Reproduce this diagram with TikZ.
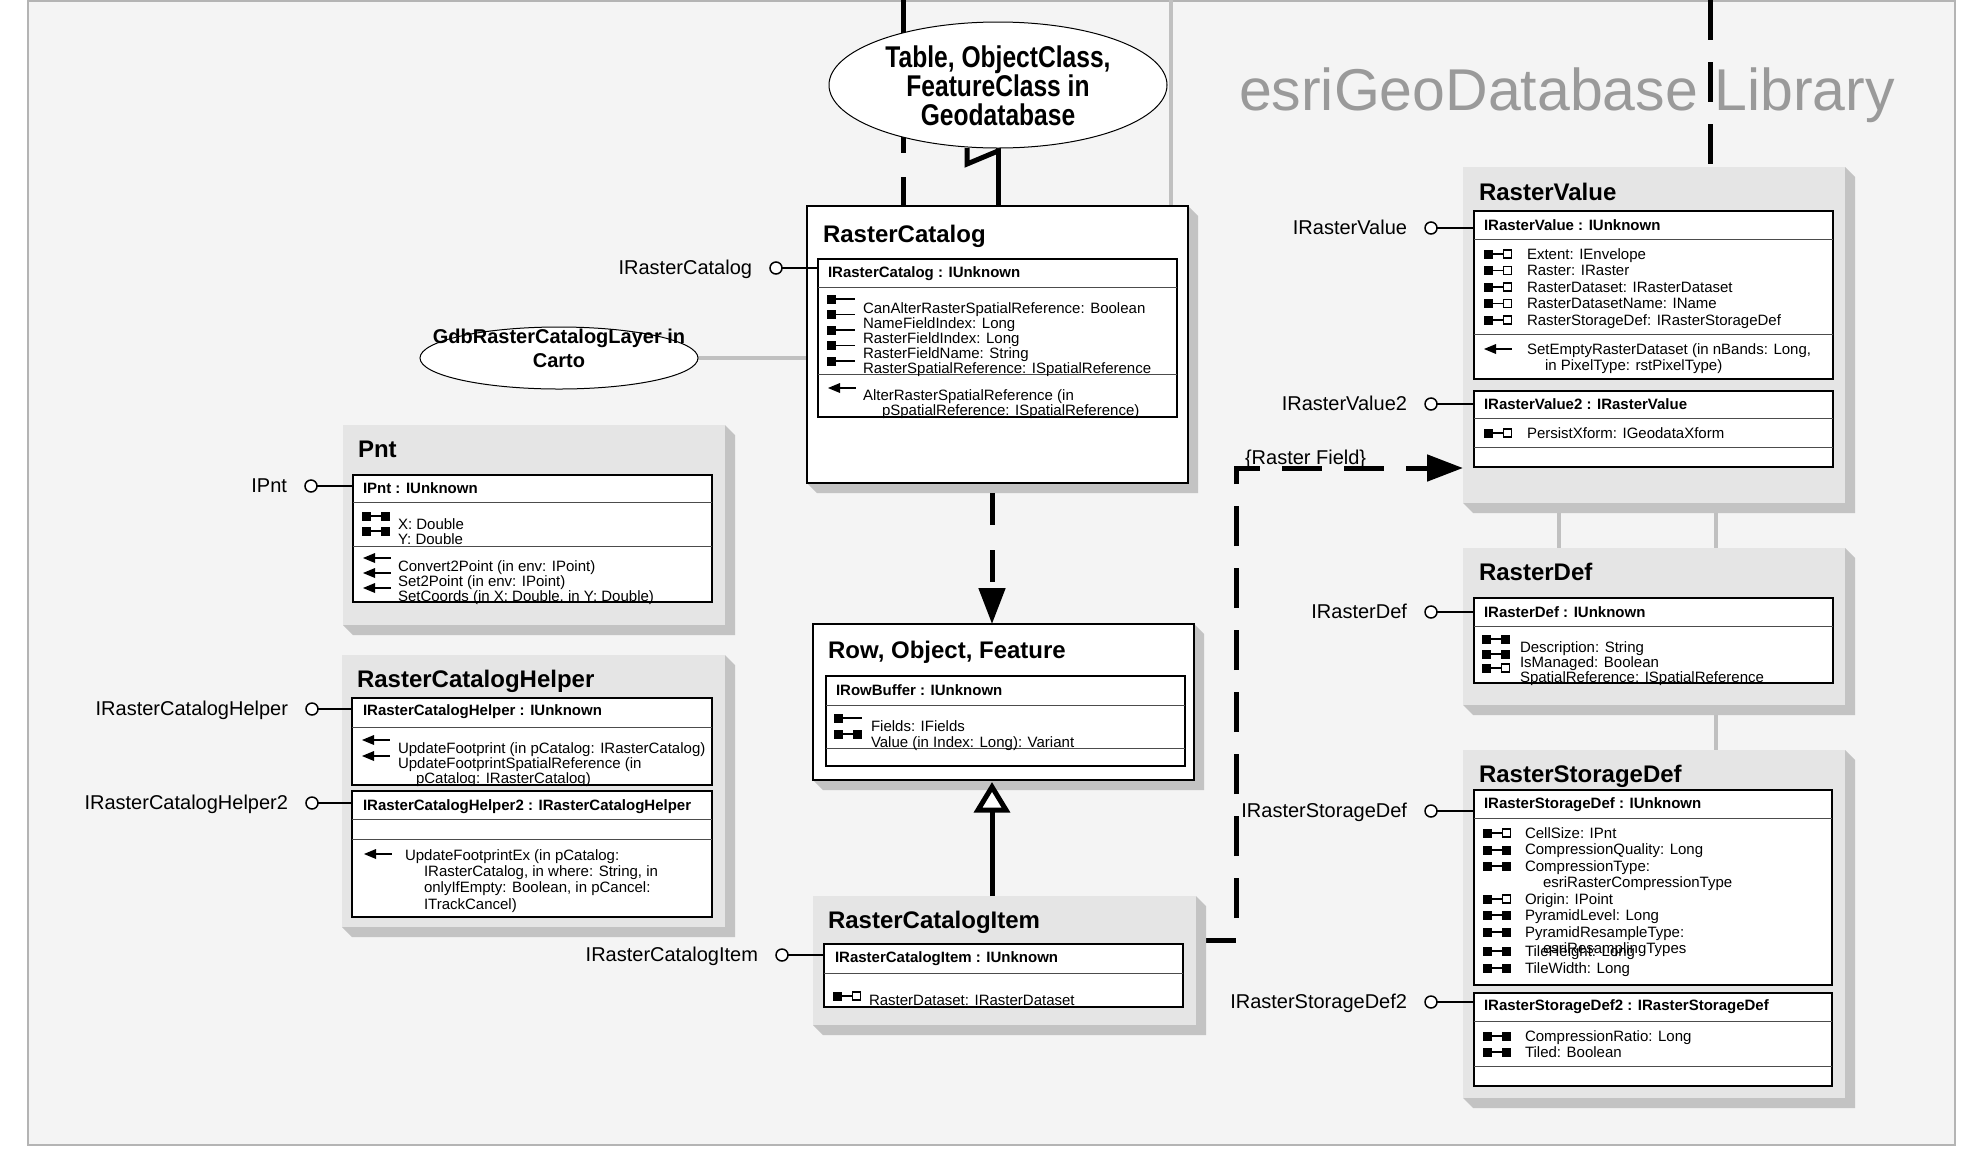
\documentclass[tikz,border=0pt]{standalone}
\usepackage{fontspec}
\setmainfont{Liberation Sans}
\newfontfamily\narrowsans{Liberation Sans}[FakeStretch=0.82]
\usetikzlibrary{arrows.meta,shapes.geometric}
\definecolor{bggray}{HTML}{F4F4F4}
\definecolor{framegray}{HTML}{B4B4B4}
\definecolor{boxgray}{HTML}{E5E5E5}
\definecolor{bevelgray}{HTML}{C3C3C3}
\definecolor{linkgray}{HTML}{C0C0C0}
\definecolor{libgray}{HTML}{9A9A9A}
\pgfdeclarelayer{back}
\pgfdeclarelayer{conn}
\pgfsetlayers{back,conn,main}
\newcommand{\fsr}{\rule{0pt}{11.5pt}}
\tikzset{
  every node/.style={inner sep=0pt, outer sep=0pt},
  lbl/.style={font=\fontsize{20}{24}\selectfont, anchor=base east},
  ttl/.style={font=\bfseries\fontsize{24}{28}\selectfont, anchor=base west},
  hdr/.style={font=\bfseries\fontsize{15}{18}\selectfont, anchor=base west},
  prp/.style={font=\fontsize{15}{#1}\selectfont, align=left, anchor=north west},
  prp/.default=15,
  gbox/.style={fill=boxgray, draw=none},
  wbox/.style={fill=white, draw=black, line width=1.2pt},
  ifc/.style={fill=white, draw=black, line width=1.8pt},
  lolli/.style={circle, draw=black, fill=white, line width=1.5pt, minimum size=12pt},
  dashconn/.style={line width=5pt, dash pattern=on 40pt off 22pt},
  thickconn/.style={line width=5pt},
  grayconn/.style={line width=4pt, draw=linkgray},
  pro/.pic={\fill (0,-4.5) rectangle (9,4.5); \draw[line width=1.6pt] (9,0) -- (28,0);},
  prw/.pic={\fill (0,-4.5) rectangle (9,4.5); \fill (19,-4.5) rectangle (28,4.5); \draw[line width=1.6pt] (9,0) -- (19,0);},
  pref/.pic={\fill (0,-4.5) rectangle (9,4.5); \draw[line width=1.6pt] (9,0) -- (19.5,0); \draw[line width=1.4pt, fill=white] (19.5,-4) rectangle (27.5,4);},
  mth/.pic={\fill (0,0) -- (12,-5) -- (12,5) -- cycle; \draw[line width=1.6pt] (11,0) -- (28,0);},
}
\newcommand{\ClassBox}[6]{%
  \fill[bevelgray] (#4,#3) -- ++(10,10) -- (#4+10,#5+10) -- (#2+10,#5+10) -- (#2,#5) -- (#4,#5) -- cycle;
  \node[#6, minimum width=#4-#2, minimum height=#5-#3, anchor=north west] (#1) at (#2,#3) {};}
\newcommand{\IfcBox}[5]{%
  \node[ifc, minimum width=#4-#2, minimum height=#5-#3, anchor=north west] (#1) at (#2,#3) {};}
\newcommand{\Sep}[2]{\draw[line width=1pt, black!70] (#1.west |- 0,#2) -- (#1.east |- 0,#2);}
\newcommand{\Lolli}[6]{%
  \node[lolli] (#1) at (#2,#3) {};
  \draw[line width=1.5pt] (#1.east) -- (#4.west |- #1);
  \node[lbl] (#5) at (#2-24,#3+6) {#6};}
\begin{document}
\begin{tikzpicture}[x=1pt, y=-1pt]
\useasboundingbox (0,0) rectangle (1961,1163);
\begin{pgfonlayer}{back}
  \fill[bggray] (28,0) rectangle (1955,1145);
  \draw[framegray, line width=2.5pt] (28,1) rectangle (1955,1145);
\end{pgfonlayer}

% library title
\node[font=\fontsize{59}{64}\selectfont, text=libgray, anchor=base west] (lib) at (1239,110) {esriGeoDatabase Library};

% ellipses
\node[ellipse, draw=black, fill=white, line width=1pt, minimum width=338pt, minimum height=126pt] (tbl) at (998,85) {};
\node[font=\narrowsans\bfseries\fontsize{30}{29}\selectfont, align=center, anchor=north] (tblT) at (998,67-23) {\rule{0pt}{23pt}Table, ObjectClass,\\FeatureClass in\\Geodatabase};
\node[ellipse, draw=black, fill=white, line width=1pt, minimum width=278pt, minimum height=62pt] (gdb) at (559,358) {};
\node[font=\bfseries\fontsize{20}{24}\selectfont, align=center, anchor=north] (gdbT) at (559,343-15) {\rule{0pt}{15pt}GdbRasterCatalogLayer in\\Carto};

% ---------- RasterCatalog
\ClassBox{rc}{807}{206}{1188}{483}{wbox}
\node[ttl] (rcT) at (823,242) {RasterCatalog};
\IfcBox{rcI}{818}{259}{1177}{417}
\Sep{rcI}{287}\Sep{rcI}{374}
\node[hdr] (rcH) at (828,277) {IRasterCatalog : IUnknown};
\node[prp] (rcP) at (863,313-11.5) {\fsr CanAlterRasterSpatialReference: Boolean\\NameFieldIndex: Long\\RasterFieldIndex: Long\\RasterFieldName: String\\RasterSpatialReference: ISpatialReference};
\pic at (827,299) {pro}; \pic at (827,314.5) {pro}; \pic at (827,330) {pro}; \pic at (827,345.5) {pro}; \pic at (827,361) {pro};
\pic at (828,388) {mth};
\node[prp] (rcM) at (863,400-11.5) {\fsr AlterRasterSpatialReference (in\\\hspace*{19pt}pSpatialReference: ISpatialReference)};
\Lolli{rcC}{776}{268}{rcI}{rcL}{IRasterCatalog}

% ---------- Pnt
\ClassBox{pnt}{343}{425}{725}{625}{gbox}
\node[ttl] (pntT) at (358,457) {Pnt};
\IfcBox{pntI}{353}{475}{712}{602}
\Sep{pntI}{502}\Sep{pntI}{546}
\node[hdr] (pntH) at (363,493) {IPnt : IUnknown};
\node[prp] (pntP) at (398,529-11.5) {\fsr X: Double\\Y: Double};
\pic at (362,516) {prw}; \pic at (362,531) {prw};
\node[prp] (pntM) at (398,571-11.5) {\fsr Convert2Point (in env: IPoint)\\Set2Point (in env: IPoint)\\SetCoords (in X: Double, in Y: Double)};
\pic at (363,558) {mth}; \pic at (363,573) {mth}; \pic at (363,588) {mth};
\Lolli{pntC}{311}{486}{pntI}{pntL}{IPnt}

% ---------- RasterCatalogHelper
\ClassBox{hl}{342}{655}{725}{927}{gbox}
\node[ttl] (hlT) at (357,687) {RasterCatalogHelper};
\IfcBox{hlIa}{352}{698}{712}{785}
\Sep{hlIa}{727}
\node[hdr] (hlHa) at (363,715) {IRasterCatalogHelper : IUnknown};
\node[prp] (hlMa) at (398,753-11.5) {\fsr UpdateFootprint (in pCatalog: IRasterCatalog)\\UpdateFootprintSpatialReference (in\\\hspace*{18pt}pCatalog: IRasterCatalog)};
\pic at (362,740) {mth}; \pic at (362,756) {mth};
\IfcBox{hlIb}{352}{791}{712}{917}
\Sep{hlIb}{819}\Sep{hlIb}{839}
\node[hdr] (hlHb) at (363,810) {IRasterCatalogHelper2 : IRasterCatalogHelper};
\pic at (364,854) {mth};
\node[prp=16.4] (hlMb) at (405,860-11.5) {\fsr UpdateFootprintEx (in pCatalog:\\\hspace*{19pt}IRasterCatalog, in where: String, in\\\hspace*{19pt}onlyIfEmpty: Boolean, in pCancel:\\\hspace*{19pt}ITrackCancel)};
\Lolli{hlCa}{312}{709}{hlIa}{hlLa}{IRasterCatalogHelper}
\Lolli{hlCb}{312}{803}{hlIb}{hlLb}{IRasterCatalogHelper2}

% ---------- Row, Object, Feature
\ClassBox{row}{813}{624}{1194}{780}{wbox}
\node[ttl] (rowT) at (828,658) {Row, Object, Feature};
\IfcBox{rowI}{826}{676}{1185}{766}
\Sep{rowI}{705}\Sep{rowI}{748}
\node[hdr] (rowH) at (836,695) {IRowBuffer : IUnknown};
\node[prp=16] (rowP) at (871,731-11.5) {\fsr Fields: IFields\\Value (in Index: Long): Variant};
\pic at (834,718) {pro}; \pic at (834,734) {prw};

% ---------- RasterCatalogItem
\ClassBox{rcit}{813}{896}{1196}{1025}{gbox}
\node[ttl] (ritT) at (828,928) {RasterCatalogItem};
\IfcBox{ritI}{824}{944}{1183}{1007}
\Sep{ritI}{973}
\node[hdr] (ritH) at (835,962) {IRasterCatalogItem : IUnknown};
\node[prp] (ritP) at (869,1005-11.5) {\fsr RasterDataset: IRasterDataset};
\pic at (833,996) {pref};
\Lolli{ritC}{782}{955}{ritI}{ritL}{IRasterCatalogItem}

% ---------- RasterValue
\ClassBox{rv}{1463}{167}{1845}{503}{gbox}
\node[ttl] (rvT) at (1479,200) {RasterValue};
\IfcBox{rvIa}{1474}{211}{1833}{379}
\Sep{rvIa}{239}\Sep{rvIa}{334}
\node[hdr] (rvHa) at (1484,230) {IRasterValue : IUnknown};
\node[prp=16.5] (rvPa) at (1527,259-11.5) {\fsr Extent: IEnvelope\\Raster: IRaster\\RasterDataset: IRasterDataset\\RasterDatasetName: IName\\RasterStorageDef: IRasterStorageDef};
\pic at (1484,254) {pref}; \pic at (1484,270.5) {pref}; \pic at (1484,287) {pref}; \pic at (1484,303.5) {pref}; \pic at (1484,320) {pref};
\pic at (1484,349) {mth};
\node[prp=16] (rvMa) at (1527,354-11.5) {\fsr SetEmptyRasterDataset (in nBands: Long,\\\hspace*{18pt}in PixelType: rstPixelType)};
\IfcBox{rvIb}{1474}{391}{1833}{467}
\Sep{rvIb}{418}\Sep{rvIb}{447}
\node[hdr] (rvHb) at (1484,409) {IRasterValue2 : IRasterValue};
\node[prp] (rvPb) at (1527,438-11.5) {\fsr PersistXform: IGeodataXform};
\pic at (1484,433) {pref};
\Lolli{rvCa}{1431}{228}{rvIa}{rvLa}{IRasterValue}
\Lolli{rvCb}{1431}{404}{rvIb}{rvLb}{IRasterValue2}

% ---------- RasterDef
\ClassBox{rd}{1463}{548}{1845}{705}{gbox}
\node[ttl] (rdT) at (1479,580) {RasterDef};
\IfcBox{rdI}{1474}{598}{1833}{683}
\Sep{rdI}{626}
\node[hdr] (rdH) at (1484,617) {IRasterDef : IUnknown};
\node[prp] (rdP) at (1520,652-11.5) {\fsr Description: String\\IsManaged: Boolean\\SpatialReference: ISpatialReference};
\pic at (1482,639) {prw}; \pic at (1482,654) {prw}; \pic at (1482,668) {pref};
\Lolli{rdC}{1431}{612}{rdI}{rdL}{IRasterDef}

% ---------- RasterStorageDef
\ClassBox{rs}{1463}{750}{1845}{1098}{gbox}
\node[ttl] (rsT) at (1479,782) {RasterStorageDef};
\IfcBox{rsIa}{1474}{790}{1832}{985}
\Sep{rsIa}{818}
\node[hdr] (rsHa) at (1484,808) {IRasterStorageDef : IUnknown};
\node[prp=16.5] (rsPa) at (1525,838-11.5) {\fsr CellSize: IPnt\\CompressionQuality: Long\\CompressionType:\\\hspace*{18pt}esriRasterCompressionType\\Origin: IPoint\\PyramidLevel: Long\\PyramidResampleType:};
\node[prp] (rsPb) at (1543,953-11.5) {\fsr esriResamplingTypes};
\node[prp=17] (rsPc) at (1525,956-11.5) {\fsr TileHeight: Long\\TileWidth: Long};
\pic at (1483,833) {pref}; \pic at (1483,850) {prw}; \pic at (1483,866) {prw}; \pic at (1483,899) {pref};
\pic at (1483,915) {prw}; \pic at (1483,932) {prw}; \pic at (1483,951) {prw}; \pic at (1483,968) {prw};
\IfcBox{rsIb}{1474}{993}{1832}{1086}
\Sep{rsIb}{1021}\Sep{rsIb}{1066}
\node[hdr] (rsHb) at (1484,1010) {IRasterStorageDef2 : IRasterStorageDef};
\node[prp=16] (rsPd) at (1525,1041-11.5) {\fsr CompressionRatio: Long\\Tiled: Boolean};
\pic at (1483,1036) {prw}; \pic at (1483,1052) {prw};
\Lolli{rsCa}{1431}{811}{rsIa}{rsLa}{IRasterStorageDef}
\Lolli{rsCb}{1431}{1002}{rsIb}{rsLb}{IRasterStorageDef2}

% label on the raster field connector
\node[lbl, anchor=base west] (rfl) at (1245,464) {\{Raster Field\}};

% ---------- connectors
\coordinate (topA) at (903,0);
\coordinate (topB) at (1171,0);
\coordinate (topC) at (1710,0);
\coordinate (ax) at (992,0);
\coordinate (bendA) at (1236,940);
\coordinate (bendB) at (1236,468);
\coordinate (gA) at (1559,0);
\coordinate (gB) at (1716,0);
\coordinate (inhTip) at (row.south -| ax);
\begin{pgfonlayer}{conn}
  \draw[dashconn, dash pattern=on 35pt off 24pt] (topA) -- (topA |- rc.north);
  \draw[grayconn] (topB) -- (topB |- rc.north);
  \draw[dashconn] (topC) -- (topC |- rv.north);
  \draw[grayconn] (gdb.east) -- (rc.west |- gdb.east);
  \draw[thickconn] (tbl.south) -- (tbl.south |- rc.north);
  \draw[grayconn] (rv.south -| gA) -- (rd.north -| gA);
  \draw[grayconn] (rv.south -| gB) -- (rd.north -| gB);
  \draw[grayconn] (rd.south -| gB) -- (rs.north -| gB);
\end{pgfonlayer}
\draw[thickconn, line join=miter] ([shift={(-31,0)}]tbl.south) -- ++(0,16) -- ([shift={(0,3)}]tbl.south);
\draw[line width=5pt, dash pattern=on 32pt off 25pt, -{Triangle[length=36pt,width=26pt]}] ([shift={(0,10)}]rc.south -| ax) -- (row.north -| ax);
% generalization: RasterCatalogItem -> Row, Object, Feature (hollow triangle)
\draw[thickconn] (rcit.north -| ax) -- ([shift={(0,30)}]inhTip);
\draw[line width=5pt, line join=miter, fill=white] ([shift={(0,7)}]inhTip) -- ([shift={(-14,30)}]inhTip) -- ([shift={(14,30)}]inhTip) -- cycle;
\begin{pgfonlayer}{conn}
  \draw[dashconn, -{Triangle[length=36pt,width=26pt]}] (rcit.east |- bendA) -- (bendA) -- (bendB) -- (rv.west |- bendB);
\end{pgfonlayer}
\end{tikzpicture}
\end{document}
